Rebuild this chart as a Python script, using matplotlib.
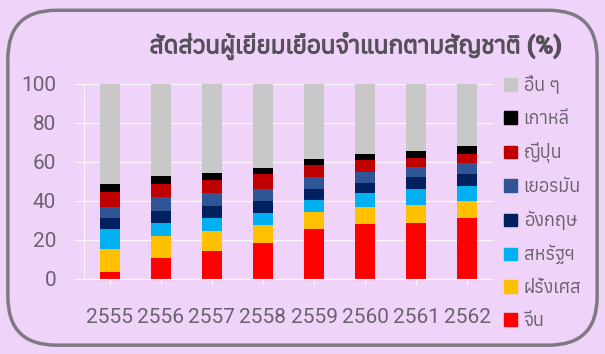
import matplotlib
matplotlib.use("Agg")
import matplotlib.pyplot as plt
import matplotlib.patheffects as pe
from matplotlib import font_manager, ft2font
from matplotlib.patches import FancyBboxPatch, Patch
import numpy as np

years = ["2555", "2556", "2557", "2558", "2559", "2560", "2561", "2562"]
china = [3.6, 10.8, 14.2, 18.2, 25.4, 28.1, 28.9, 31.4]
france = [11.9, 11.4, 10.5, 9.4, 8.8, 8.8, 9.2, 8.8]
usa = [9.9, 6.5, 6.7, 6.4, 6.5, 7.2, 8.1, 7.7]
uk = [5.8, 6.0, 6.0, 6.2, 5.5, 5.2, 5.9, 6.0]
germany = [5.6, 7.4, 6.7, 5.8, 6.0, 5.6, 5.3, 5.5]
japan = [7.8, 6.5, 6.6, 7.6, 6.0, 6.1, 4.6, 4.7]
korea = [4.2, 4.1, 3.4, 3.1, 3.1, 3.1, 3.5, 3.9]

names = ["จีน", "ฝรั่งเศส", "สหรัฐฯ", "อังกฤษ", "เยอรมัน", "ญี่ปุ่น", "เกาหลี", "อื่น ๆ"]
colors = ["#ff0000", "#ffc000", "#00b0f0", "#002060", "#2f5597", "#c00000", "#000000", "#c8c8c8"]


def has_thai(path):
    try:
        return ft2font.FT2Font(path).get_char_index(0x0E2A) != 0
    except Exception:
        return False


thai = sorted({f.name for f in font_manager.fontManager.ttflist if has_thai(f.fname)})
installed = {f.name for f in font_manager.fontManager.ttflist}
narrow = [n for n in ["Liberation Sans Narrow", "Roboto"] if n in installed][:1]
plt.rcParams["font.family"] = narrow + thai[:1] + ["DejaVu Sans"]

series = [np.array(s) for s in [china, france, usa, uk, germany, japan, korea]]
series.append(100 - sum(series))

bg = "#f0d3f8"
txt = "#6a6270"
fig = plt.figure(figsize=(6.05, 3.54), dpi=100, facecolor=bg)

frame = FancyBboxPatch((0.013, 0.025), 0.974, 0.946, boxstyle="round,pad=0,rounding_size=0.08",
                       transform=fig.transFigure, facecolor="none", edgecolor="#7f7a82",
                       linewidth=2.5, mutation_aspect=605 / 354)
fig.patches.append(frame)

ax = fig.add_axes([0.1388, 0.212, 0.676, 0.551])
ax.set_facecolor(bg)
x = np.arange(len(years))
bottom = np.zeros(len(years))
for vals, c, n in zip(series, colors, names):
    ax.bar(x, vals, width=0.39, bottom=bottom, color=c, label=n)
    bottom += vals

ax.set_xlim(-0.5, 7.5)
ax.set_ylim(0, 100)
ax.set_yticks([0, 20, 40, 60, 80, 100])
ax.set_xticks(x)
ax.set_xticklabels(years)
ax.grid(axis="y", color="#fbf6fc", linewidth=1)
ax.set_axisbelow(True)
for s in ["top", "right"]:
    ax.spines[s].set_visible(False)
for s in ["left", "bottom"]:
    ax.spines[s].set_color("#fbf6fc")
ax.tick_params(axis="y", colors="#fbf6fc", length=7, labelcolor=txt, labelsize=15, pad=13)
ax.tick_params(axis="x", colors="#fbf6fc", length=4, labelcolor=txt, labelsize=15, pad=17)

handles = [Patch(color=c) for c in colors][::-1]
leg = fig.legend(handles, names[::-1], loc="upper left", bbox_to_anchor=(0.806, 0.83),
                 frameon=False, fontsize=13, handlelength=0.7, handleheight=0.7,
                 handletextpad=0.4, labelspacing=0.82, labelcolor=txt)

title = fig.text(0.587, 0.87, "สัดส่วนผู้เยี่ยมเยือนจำแนกตามสัญชาติ (%)", ha="center",
                 va="center", fontsize=17.5, fontweight="bold", color="#55505a")
title.set_path_effects([pe.withStroke(linewidth=0.8, foreground="#55505a")])

fig.savefig("out.png", dpi=100, facecolor=bg)
